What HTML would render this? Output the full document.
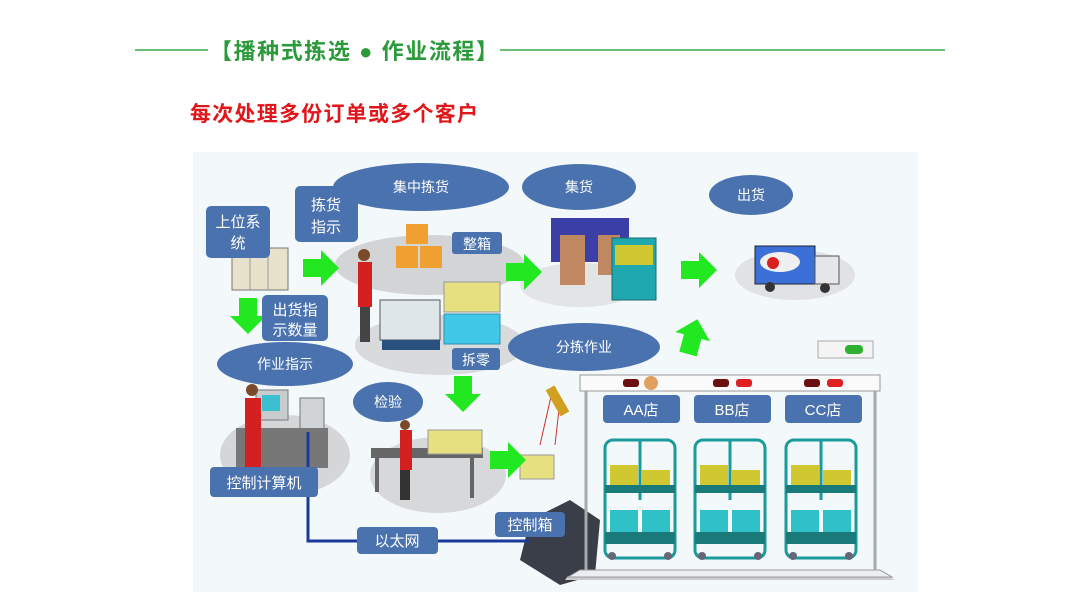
<!DOCTYPE html>
<html><head><meta charset="utf-8"><style>
html,body{margin:0;padding:0;background:#fff;width:1080px;height:608px;overflow:hidden}
svg{display:block}
text{font-family:"Liberation Sans","Noto Sans CJK SC",sans-serif}
</style></head><body>
<svg width="1080" height="608" viewBox="0 0 1080 608" xmlns="http://www.w3.org/2000/svg">
<defs>
<g id="ar"><polygon points="0,-9 18,-9 18,-18 36,0 18,18 18,9 0,9" fill="#22e822"/></g>
</defs>
<!-- header -->
<line x1="135" y1="50" x2="208" y2="50" stroke="#3aa84a" stroke-width="1.5"/>
<line x1="500" y1="50" x2="945" y2="50" stroke="#3aa84a" stroke-width="1.5"/>
<text x="210" y="59" font-size="22" font-weight="bold" fill="#2b9a3a" textLength="288" lengthAdjust="spacing">【播种式拣选 ● 作业流程】</text>
<text x="190" y="121" font-size="21" font-weight="bold" fill="#e0161b" textLength="288" lengthAdjust="spacing">每次处理多份订单或多个客户</text>
<!-- image bg -->
<rect x="193" y="152" width="725" height="440" fill="#f3f8fb"/>
<!-- platforms -->
<ellipse cx="430" cy="265" rx="95" ry="30" fill="#d2d4d6"/>
<ellipse cx="440" cy="345" rx="85" ry="30" fill="#d8dadc"/>
<ellipse cx="285" cy="455" rx="65" ry="40" fill="#d4d6d8"/>
<ellipse cx="438" cy="475" rx="68" ry="38" fill="#d6d8da"/>
<ellipse cx="580" cy="285" rx="60" ry="22" fill="#e2e4e6"/>
<ellipse cx="795" cy="275" rx="60" ry="25" fill="#e0e2e4"/>
<!-- server -->
<rect x="232" y="248" width="56" height="42" fill="#e8e2cc" stroke="#777"/>
<line x1="250" y1="248" x2="250" y2="290" stroke="#999"/><line x1="268" y1="248" x2="268" y2="290" stroke="#999"/>
<!-- boxes -->
<rect x="406" y="224" width="22" height="20" fill="#f0a030"/>
<rect x="396" y="246" width="22" height="22" fill="#f0a030"/>
<rect x="420" y="246" width="22" height="22" fill="#f0a030"/>
<rect x="444" y="282" width="56" height="30" fill="#e6e080" stroke="#999"/>
<rect x="444" y="314" width="56" height="30" fill="#40c8e8" stroke="#3090b0"/>
<rect x="380" y="300" width="60" height="40" fill="#dfe6ea" stroke="#555"/>
<rect x="382" y="340" width="58" height="10" fill="#2a5080"/>
<!-- person 1 -->
<circle cx="364" cy="255" r="6" fill="#7a4a2a"/>
<rect x="358" y="262" width="14" height="45" fill="#d42020"/>
<rect x="360" y="307" width="10" height="35" fill="#444"/>
<!-- collect scene -->
<rect x="551" y="218" width="78" height="44" fill="#3c3ea8"/>
<rect x="560" y="235" width="25" height="50" fill="#c08860"/>
<rect x="598" y="235" width="22" height="40" fill="#c08860"/>
<rect x="612" y="238" width="44" height="62" fill="#20a8b0" stroke="#1a6a70"/>
<rect x="615" y="245" width="38" height="20" fill="#d0c830"/>
<!-- truck -->
<rect x="755" y="246" width="60" height="38" fill="#3a70d8" stroke="#223"/>
<ellipse cx="780" cy="262" rx="20" ry="10" fill="#f0f0f0"/>
<circle cx="773" cy="263" r="6" fill="#d82020"/>
<rect x="815" y="256" width="24" height="28" fill="#e4e6e8" stroke="#555"/>
<circle cx="770" cy="287" r="5" fill="#333"/><circle cx="825" cy="288" r="5" fill="#333"/>
<!-- computer station -->
<rect x="256" y="390" width="32" height="30" fill="#c8cccc" stroke="#777"/>
<rect x="262" y="395" width="18" height="16" fill="#3ac0d0"/>
<rect x="300" y="398" width="24" height="52" fill="#d0d4d6" stroke="#777"/>
<rect x="236" y="428" width="92" height="40" fill="#777"/>
<circle cx="252" cy="390" r="6" fill="#7a4a2a"/>
<rect x="245" y="398" width="16" height="70" fill="#d42020"/>
<!-- inspection -->
<rect x="371" y="448" width="112" height="10" fill="#666"/>
<rect x="375" y="458" width="4" height="34" fill="#666"/><rect x="470" y="458" width="4" height="40" fill="#666"/>
<rect x="428" y="430" width="54" height="24" fill="#e6e080" stroke="#999"/>
<circle cx="405" cy="425" r="5" fill="#7a4a2a"/>
<rect x="400" y="430" width="12" height="40" fill="#d42020"/>
<rect x="400" y="470" width="10" height="30" fill="#333"/>
<!-- scanner & boxes -->
<rect x="520" y="455" width="34" height="24" fill="#e6e080" stroke="#999"/>
<line x1="552" y1="392" x2="540" y2="445" stroke="#d03030"/><line x1="560" y1="400" x2="555" y2="445" stroke="#d03030"/>
<rect x="552" y="386" width="10" height="30" fill="#d0a020" transform="rotate(-30 557 400)"/>
<!-- control box -->
<polygon points="530,520 570,500 600,520 595,575 560,585 520,560" fill="#3a3e48"/>
<!-- shelf -->
<polygon points="568,576 888,576 895,580 565,580" fill="#ccc"/>
<polygon points="580,570 880,570 892,577 568,577" fill="#eceff1" stroke="#999"/>
<rect x="580" y="375" width="300" height="16" fill="#fafafa" stroke="#999"/>
<line x1="586" y1="391" x2="586" y2="570" stroke="#aaa" stroke-width="3"/>
<line x1="875" y1="391" x2="875" y2="570" stroke="#aaa" stroke-width="3"/>
<rect x="818" y="341" width="55" height="17" fill="#f4f4f4" stroke="#aaa"/>
<rect x="845" y="345" width="18" height="9" rx="4" fill="#30b030"/>
<g fill="#6a1010"><rect x="623" y="379" width="16" height="8" rx="3"/><rect x="713" y="379" width="16" height="8" rx="3"/><rect x="804" y="379" width="16" height="8" rx="3"/></g>
<g fill="#e02020"><rect x="736" y="379" width="16" height="8" rx="3"/><rect x="827" y="379" width="16" height="8" rx="3"/></g>
<circle cx="651" cy="383" r="7" fill="#e0a060"/>
<g id="cart">
<rect x="605" y="440" width="70" height="118" rx="8" fill="none" stroke="#1a9a9a" stroke-width="3"/>
<line x1="640" y1="440" x2="640" y2="500" stroke="#1a9a9a" stroke-width="3"/>
<rect x="610" y="465" width="28" height="20" fill="#d0c830"/><rect x="642" y="470" width="28" height="15" fill="#d0c830"/>
<rect x="605" y="485" width="70" height="8" fill="#1a7a7a"/>
<rect x="610" y="510" width="28" height="22" fill="#30c0c8"/><rect x="642" y="510" width="28" height="22" fill="#30c0c8"/>
<rect x="605" y="532" width="70" height="12" fill="#1a7a7a"/>
<circle cx="612" cy="556" r="4" fill="#667"/><circle cx="668" cy="556" r="4" fill="#667"/>
</g>
<use href="#cart" x="90"/>
<use href="#cart" x="181"/>
<!-- arrows -->
<use href="#ar" transform="translate(303,268)"/>
<use href="#ar" transform="translate(506,272)"/>
<use href="#ar" transform="translate(681,270)"/>
<use href="#ar" transform="translate(490,460)"/>
<use href="#ar" transform="translate(248,298) rotate(90)"/>
<use href="#ar" transform="translate(463,376) rotate(90)"/>
<use href="#ar" transform="translate(688,354) rotate(-75)"/>
<!-- network line -->
<polyline points="308,432 308,541 530,541" fill="none" stroke="#1a3a9a" stroke-width="3"/>
<!-- ellipses -->
<g fill="#4a72ae">
<ellipse cx="421" cy="187" rx="88" ry="24"/>
<ellipse cx="579" cy="187" rx="57" ry="23"/>
<ellipse cx="751" cy="195" rx="42" ry="20"/>
<ellipse cx="584" cy="347" rx="76" ry="24"/>
<ellipse cx="285" cy="364" rx="68" ry="22"/>
<ellipse cx="388" cy="402" rx="35" ry="20"/>
</g>
<!-- labels -->
<g fill="#4a72ae">
<rect x="206" y="206" width="64" height="52" rx="5"/>
<rect x="295" y="186" width="63" height="56" rx="5"/>
<rect x="262" y="295" width="66" height="46" rx="5"/>
<rect x="452" y="232" width="50" height="22" rx="3"/>
<rect x="452" y="348" width="48" height="22" rx="3"/>
<rect x="603" y="395" width="77" height="28" rx="4"/>
<rect x="694" y="395" width="77" height="28" rx="4"/>
<rect x="785" y="395" width="77" height="28" rx="4"/>
<rect x="210" y="467" width="108" height="30" rx="4"/>
<rect x="357" y="527" width="81" height="27" rx="4"/>
<rect x="495" y="512" width="70" height="25" rx="4"/>
</g>
<g fill="#fff" font-size="15" text-anchor="middle">
<text x="421" y="192" font-size="14">集中拣货</text>
<text x="579" y="192" font-size="14">集货</text>
<text x="751" y="200" font-size="14">出货</text>
<text x="584" y="352" font-size="14">分拣作业</text>
<text x="285" y="369" font-size="14">作业指示</text>
<text x="388" y="407" font-size="14">检验</text>
<text x="238" y="227">上位系</text><text x="238" y="248">统</text>
<text x="326" y="210">拣货</text><text x="326" y="232">指示</text>
<text x="295" y="315">出货指</text><text x="295" y="335">示数量</text>
<text x="477" y="249" font-size="14">整箱</text>
<text x="476" y="365" font-size="14">拆零</text>
<text x="641" y="415">AA店</text>
<text x="732" y="415">BB店</text>
<text x="823" y="415">CC店</text>
<text x="264" y="488">控制计算机</text>
<text x="397" y="546">以太网</text>
<text x="530" y="530">控制箱</text>
</g>
</svg>
</body></html>
